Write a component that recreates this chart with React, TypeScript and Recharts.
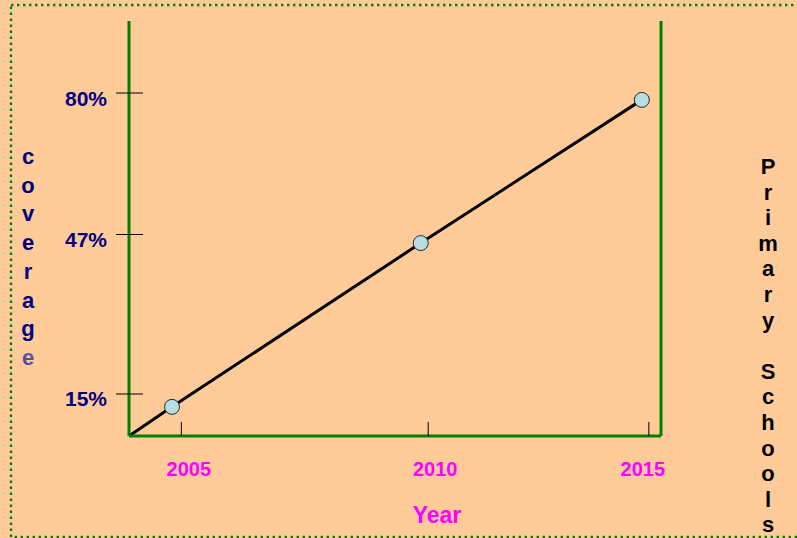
import { ComposedChart, Line, XAxis, YAxis } from "recharts";

// year position of each point on the line (first one is the origin corner)
const years = [2003.88, 2004.8, 2010.12, 2014.85];
const coverage = [0, 6.8, 45.0, 78.4];

const yearTicks = [2005, 2010.28, 2015];
const yearLabels = ["2005", "2010", "2015"];
const levelTicks = [9.8, 47, 80];
const coverageLabels = ["15%", "47%", "80%"];
const schoolLabels = ["1,223", "3,833", "6,525"];

const data = years.map((x, i) => ({ x, coverage: coverage[i] }));

const FONT = "'Liberation Sans', Arial, Helvetica, sans-serif";
const GREEN = "#008000";

// the slide's labels were placed by hand, these nudge them a bit
const yearNudge = [7.5, 7, -6];
const schoolNudge: Record<number, [number, number]> = { 0: [13, -13] };

function CoverageTick(props: any) {
  const { x, y, payload } = props;
  const i = levelTicks.indexOf(payload.value);
  return (
    <g>
      <line x1={x - 13} x2={x + 14} y1={y} y2={y} stroke="#000" strokeWidth={1} />
      <text x={x - 22} y={y + 12.5} textAnchor="end" fill="#000080" fontSize={21} fontWeight="bold" fontFamily={FONT}>
        {coverageLabels[i]}
      </text>
    </g>
  );
}

function SchoolTick(props: any) {
  const { x, y, payload } = props;
  const i = levelTicks.indexOf(payload.value);
  const [dx, dy] = schoolNudge[i] ?? [0, 0];
  return (
    <g>
      <line x1={x - 12} x2={x + 14} y1={y} y2={y} stroke="#000" strokeWidth={1} />
      <text x={x + 24 + dx} y={y + 12 + dy} textAnchor="start" fill="#000" fontSize={21} fontWeight="bold" fontFamily={FONT}>
        {schoolLabels[i]}
      </text>
    </g>
  );
}

function YearTick(props: any) {
  const { x, y, payload } = props;
  const i = yearTicks.indexOf(payload.value);
  return (
    <g>
      <line x1={x} x2={x} y1={y - 14} y2={y} stroke="#000" strokeWidth={1} />
      <text x={x + yearNudge[i]} y={y + 40} textAnchor="middle" fill="#FF00FF" fontSize={20} fontWeight="bold" fontFamily={FONT}>
        {yearLabels[i]}
      </text>
    </g>
  );
}

function renderDot(props: any) {
  const { cx, cy, index } = props;
  if (index === 0) return <g key="dot-0" />;
  return <circle key={`dot-${index}`} cx={cx} cy={cy} r={7.5} fill="#B8DEE4" stroke="#1d2b2b" strokeWidth={1} />;
}

function Stacked({ text, x, y, step, fill, lastFill }: { text: string; x: number; y: number; step: number; fill: string; lastFill?: string }) {
  const chars = text.split("");
  return (
    <g>
      {chars.map((ch, i) =>
        ch === " " ? null : (
          <text
            key={i}
            x={x}
            y={y + i * step}
            textAnchor="middle"
            fill={lastFill && i === chars.length - 1 ? lastFill : fill}
            fontSize={22}
            fontWeight="bold"
            fontFamily={FONT}
          >
            {ch}
          </text>
        ),
      )}
    </g>
  );
}

export default function App() {
  return (
    <div style={{ position: "absolute", left: 0, top: 0, width: 797, height: 538, background: "#FFCC99", overflow: "hidden" }}>
      <svg width={797} height={538} style={{ position: "absolute", left: 0, top: 0 }}>
        <rect x={11} y={5} width={820} height={532} fill="none" stroke={GREEN} strokeWidth={2.4} strokeDasharray="2.4 3.6" />
        <Stacked text="coverage" x={28} y={164} step={28.7} fill="#000080" lastFill="#5050A8" />
        <Stacked text="Primary Schools" x={768} y={174} step={25.6} fill="#000" />
        <text x={437} y={523} textAnchor="middle" fill="#FF00FF" fontSize={23} fontWeight="bold" fontFamily={FONT}>
          Year
        </text>
      </svg>
      <div style={{ position: "absolute", left: 0, top: 0 }}>
        <ComposedChart width={797} height={538} data={data} margin={{ top: 21, right: 76, bottom: 62, left: 69 }}>
          <XAxis
            dataKey="x"
            type="number"
            domain={[2003.88, 2015.26]}
            ticks={yearTicks}
            interval={0}
            height={40}
            tickSize={0}
            tickMargin={0}
            tickLine={false}
            tick={<YearTick />}
            axisLine={{ stroke: GREEN, strokeWidth: 3 }}
          />
          <YAxis
            yAxisId="cov"
            type="number"
            domain={[0, 96.8]}
            ticks={levelTicks}
            interval={0}
            width={60}
            tickSize={0}
            tickMargin={0}
            tickLine={false}
            tick={<CoverageTick />}
            axisLine={{ stroke: GREEN, strokeWidth: 3 }}
          />
          <YAxis
            yAxisId="sch"
            orientation="right"
            type="number"
            domain={[0, 96.8]}
            ticks={levelTicks}
            interval={0}
            width={60}
            tickSize={0}
            tickMargin={0}
            tickLine={false}
            tick={<SchoolTick />}
            axisLine={{ stroke: GREEN, strokeWidth: 3 }}
          />
          <Line
            yAxisId="cov"
            dataKey="coverage"
            type="linear"
            stroke="#000"
            strokeWidth={3}
            dot={renderDot}
            activeDot={false}
            isAnimationActive={false}
          />
        </ComposedChart>
      </div>
    </div>
  );
}
